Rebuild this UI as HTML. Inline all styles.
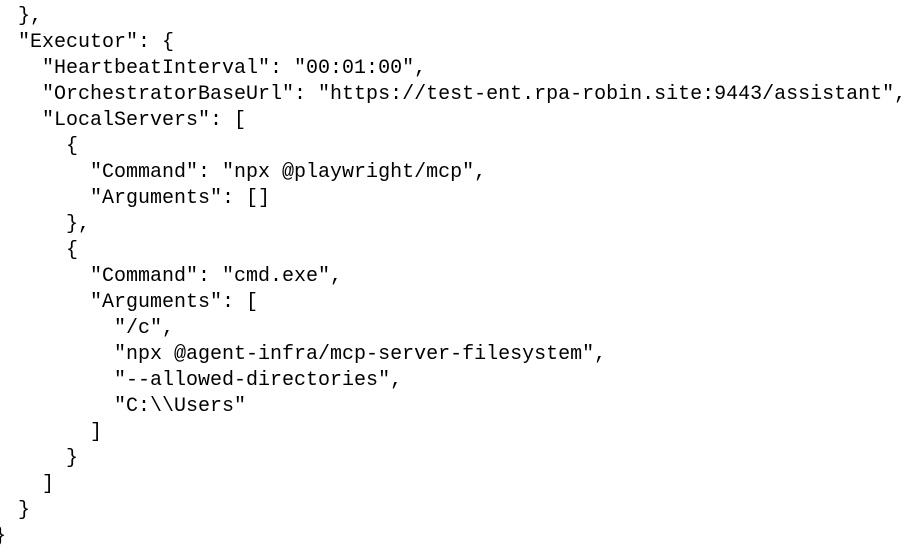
<!DOCTYPE html>
<html><head><meta charset="utf-8"><style>
html,body{margin:0;padding:0;background:#fff;width:915px;height:556px;overflow:hidden}
pre{position:absolute;left:-6px;top:-22px;margin:0;font-family:"Liberation Mono",monospace;font-size:20px;line-height:26px;color:#000}
</style></head><body>
<pre>    {
  },
  "Executor": {
    "HeartbeatInterval": "00:01:00",
    "OrchestratorBaseUrl": "https://test-ent.rpa-robin.site:9443/assistant",
    "LocalServers": [
      {
        "Command": "npx @playwright/mcp",
        "Arguments": []
      },
      {
        "Command": "cmd.exe",
        "Arguments": [
          "/c",
          "npx @agent-infra/mcp-server-filesystem",
          "--allowed-directories",
          "C:\\Users"
        ]
      }
    ]
  }
}</pre>
</body></html>
